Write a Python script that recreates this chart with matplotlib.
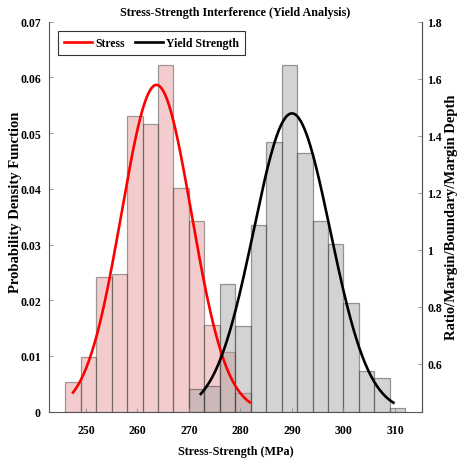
import numpy as np
import matplotlib
matplotlib.use("Agg")
import matplotlib.pyplot as plt

# -------------------- Data --------------------

# histogram bins (left edges, MPa) and heights (probability density)
bin_width = 3
stress_bins = [246, 249, 252, 255, 258, 261, 264, 267, 270, 273, 276, 279]
stress_density = [0.0054, 0.0099, 0.0241, 0.0247, 0.0530, 0.0516,
                  0.0623, 0.0402, 0.0342, 0.0155, 0.0108, 0.0034]

yield_bins = [270, 273, 276, 279, 282, 285, 288, 291, 294, 297, 300, 303, 306, 309]
yield_density = [0.0041, 0.0047, 0.0229, 0.0154, 0.0336, 0.0484, 0.0623,
                 0.0464, 0.0342, 0.0301, 0.0195, 0.0073, 0.0060, 0.0007]

# fitted normal curves: mean, std, and range of the sample
stress_fit = {"mu": 263.7, "sigma": 6.8, "lo": 247.5, "hi": 281.8}
yield_fit = {"mu": 290.0, "sigma": 7.45, "lo": 272.3, "hi": 309.7}

x_ticks = [250, 260, 270, 280, 290, 300, 310]
left_ticks = [0, 0.01, 0.02, 0.03, 0.04, 0.05, 0.06, 0.07]
left_labels = ["0", "0.01", "0.02", "0.03", "0.04", "0.05", "0.06", "0.07"]
right_ticks = [0.6, 0.8, 1.0, 1.2, 1.4, 1.6, 1.8]
right_labels = ["0.6", "0.8", "1", "1.2", "1.4", "1.6", "1.8"]


def normal_pdf(fit):
    x = np.linspace(fit["lo"], fit["hi"], 200)
    y = np.exp(-0.5 * ((x - fit["mu"]) / fit["sigma"]) ** 2) / (fit["sigma"] * np.sqrt(2 * np.pi))
    return x, y


# -------------------- Plot --------------------

plt.rcParams["font.family"] = ["Liberation Serif", "DejaVu Serif"]
plt.rcParams["font.weight"] = "bold"

fig = plt.figure(figsize=(4.61, 4.60), dpi=100)
ax = fig.add_axes([0.107, 0.1028, 0.8078, 0.8478])

edge = "#333333"
ax.bar(stress_bins, stress_density, width=bin_width, align="edge",
       color=(0.9, 0.57, 0.57), alpha=0.45, edgecolor=edge, linewidth=0.9)
ax.bar(yield_bins, yield_density, width=bin_width, align="edge",
       color=(0.64, 0.64, 0.64), alpha=0.48, edgecolor=edge, linewidth=0.9)

xs, ys = normal_pdf(stress_fit)
ax.plot(xs, ys, color="red", linewidth=1.9, label="Stress")
xy, yy = normal_pdf(yield_fit)
ax.plot(xy, yy, color="black", linewidth=1.9, label="Yield Strength")

ax.set_xlim(242.9, 315.2)
ax.set_ylim(0, 0.07)
ax.set_xticks(x_ticks)
ax.set_yticks(left_ticks)
ax.set_yticklabels(left_labels)

ax.spines["top"].set_visible(False)
for s in ["left", "bottom", "right"]:
    ax.spines[s].set_color("#555555")
    ax.spines[s].set_linewidth(0.8)
ax.tick_params(direction="in", length=3, width=0.6, color="#888888",
               labelsize=8.5, pad=6)
ax.tick_params(axis="x", pad=9)

ax.set_title("Stress-Strength Interference (Yield Analysis)", fontsize=8.7,
             fontweight="bold", pad=5)
ax.set_xlabel("Stress-Strength (MPa)", fontsize=8.7, fontweight="bold", labelpad=6)
ax.set_ylabel("Probability Density Function", fontsize=10.5, fontweight="bold")
ax.yaxis.set_label_coords(-0.0735, 0.54)

ax2 = ax.twinx()
ax2.set_ylim(0.432, 1.8)
ax2.set_yticks(right_ticks)
ax2.set_yticklabels(right_labels)
ax2.spines["top"].set_visible(False)
ax2.spines["left"].set_visible(False)
ax2.spines["bottom"].set_visible(False)
ax2.spines["right"].set_color("#555555")
ax2.spines["right"].set_linewidth(0.8)
ax2.tick_params(direction="in", length=3, width=0.6, color="#888888",
                labelsize=8.5, pad=4)
ax2.set_ylabel("Ratio/Margin/Boundary/Margin Depth", fontsize=10.5,
               fontweight="bold")
ax2.yaxis.set_label_coords(1.063, 0.5)

leg = ax.legend(loc="upper left", bbox_to_anchor=(0.023, 0.975), ncol=2,
                fontsize=8.5, frameon=True, fancybox=False, handlelength=2.4,
                columnspacing=0.8, handletextpad=0.3, borderpad=0.5,
                borderaxespad=0)
leg.get_frame().set_edgecolor("black")
leg.get_frame().set_linewidth(0.8)

fig.savefig("out.png", dpi=100)
